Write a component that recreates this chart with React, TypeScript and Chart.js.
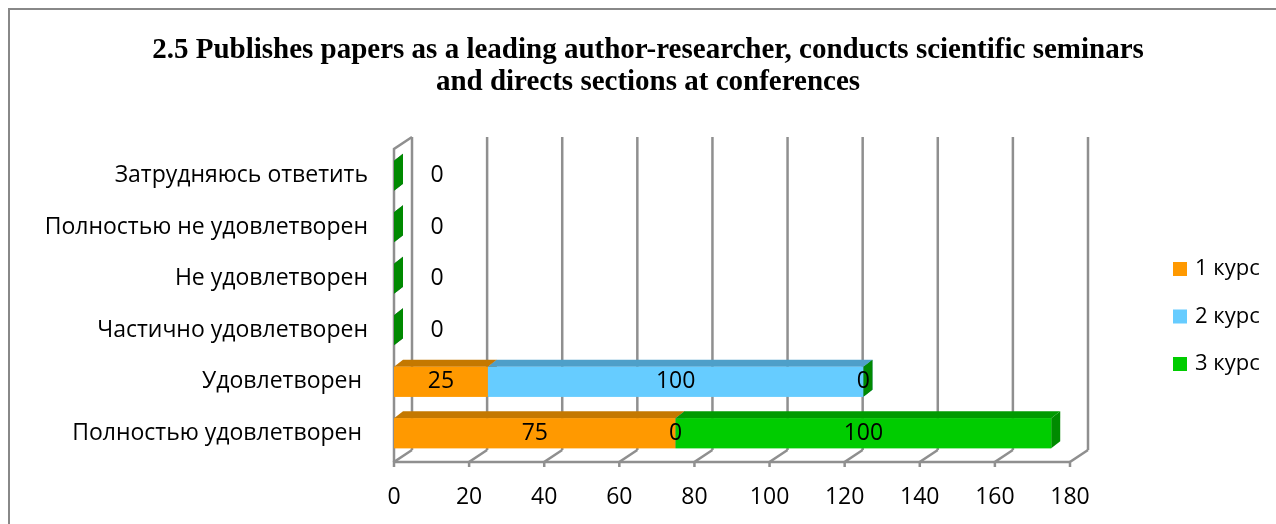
import React, { useEffect, useRef } from "react";
import { Chart, registerables } from "chart.js";

Chart.register(...registerables);

const titleLines = [
  "2.5 Publishes papers as a leading author-researcher, conducts scientific seminars",
  "and directs sections at conferences",
];
const categories = [
  "Затрудняюсь ответить",
  "Полностью не удовлетворен",
  "Не удовлетворен",
  "Частично удовлетворен",
  "Удовлетворен ",
  "Полностью удовлетворен ",
];
const seriesNames = ["1 курс", "2 курс", "3 курс"];
const course1 = [0, 0, 0, 0, 25, 75];
const course2 = [0, 0, 0, 0, 100, 0];
const course3 = [0, 0, 0, 0, 0, 100];
const xMin = 0;
const xMax = 180;
const xStep = 20;

const frontColors = ["#FF9900", "#66CCFF", "#00CC00"];
const topColors = ["#C47800", "#4E9FC9", "#009A00"];
const sideColors = ["#B06A00", "#3F8DB5", "#008A00"];

const FONT = "'Open Sans', 'DejaVu Sans', sans-serif";
const WALL_DX = 18;
const WALL_DY = 12;
const BAR_DX = 9;
const BAR_DY = 7;
const GRID_COLOR = "#8f8f8f";

const threeD = {
  id: "threeD",
  beforeDatasetsDraw(chart: any) {
    const ctx = chart.ctx;
    const xs = chart.scales.x;
    const area = chart.chartArea;
    const floorY = area.bottom + 3;
    const backTop = area.top - 13;
    ctx.save();
    ctx.strokeStyle = GRID_COLOR;
    ctx.lineWidth = 2.5;
    ctx.lineCap = "butt";
    xs.ticks.forEach((t: any) => {
      const px = xs.getPixelForValue(t.value);
      ctx.beginPath();
      ctx.moveTo(px + WALL_DX, floorY - WALL_DY);
      ctx.lineTo(px + WALL_DX, backTop);
      ctx.stroke();
    });
    const x0 = xs.getPixelForValue(xMin);
    const x1 = xs.getPixelForValue(xMax);
    ctx.beginPath();
    ctx.moveTo(x0, floorY);
    ctx.lineTo(x0, backTop + WALL_DY);
    ctx.lineTo(x0 + WALL_DX, backTop);
    ctx.stroke();
    ctx.beginPath();
    ctx.moveTo(x0, floorY);
    ctx.lineTo(x1, floorY);
    ctx.stroke();
    xs.ticks.forEach((t: any) => {
      const px = xs.getPixelForValue(t.value);
      ctx.beginPath();
      ctx.moveTo(px, floorY + 5);
      ctx.lineTo(px, floorY);
      ctx.lineTo(px + WALL_DX, floorY - WALL_DY);
      ctx.stroke();
    });
    ctx.restore();
  },
  afterDatasetsDraw(chart: any) {
    const ctx = chart.ctx;
    const xs = chart.scales.x;
    const zeroPx = xs.getPixelForValue(0);
    const n = chart.data.labels.length;
    const metas = chart.data.datasets.map((_: any, d: number) => chart.getDatasetMeta(d));
    ctx.save();
    for (let i = 0; i < n; i++) {
      metas.forEach((meta: any, d: number) => {
        const el = meta.data[i];
        if (!el) return;
        const p = el.getProps(["x", "y", "base", "height"], true);
        const left = Math.min(p.base, p.x);
        const right = Math.max(p.base, p.x);
        const top = p.y - p.height / 2;
        const bottom = p.y + p.height / 2;
        ctx.fillStyle = sideColors[d];
        ctx.beginPath();
        ctx.moveTo(right, top);
        ctx.lineTo(right + BAR_DX, top - BAR_DY);
        ctx.lineTo(right + BAR_DX, bottom - BAR_DY);
        ctx.lineTo(right, bottom);
        ctx.closePath();
        ctx.fill();
        if (right - left > 0) {
          ctx.fillStyle = topColors[d];
          ctx.beginPath();
          ctx.moveTo(left, top);
          ctx.lineTo(left + BAR_DX, top - BAR_DY);
          ctx.lineTo(right + BAR_DX, top - BAR_DY);
          ctx.lineTo(right, top);
          ctx.closePath();
          ctx.fill();
          ctx.fillStyle = frontColors[d];
          ctx.fillRect(left, top, right - left, bottom - top);
        }
      });
    }
    ctx.fillStyle = "#000";
    ctx.font = `23px ${FONT}`;
    ctx.textAlign = "center";
    ctx.textBaseline = "middle";
    for (let i = 0; i < n; i++) {
      const drawn = new Set<string>();
      metas.forEach((meta: any, d: number) => {
        const el = meta.data[i];
        if (!el) return;
        const p = el.getProps(["x", "y", "base"], true);
        const v = chart.data.datasets[d].data[i];
        let cx = (p.x + p.base) / 2;
        if (v === 0 && Math.abs(p.x - zeroPx) < 0.5) cx = zeroPx + 43;
        const key = `${Math.round(cx)}|${v}`;
        if (drawn.has(key)) return;
        drawn.add(key);
        ctx.fillText(String(v), cx, p.y);
      });
    }
    ctx.restore();
  },
  afterDraw(chart: any) {
    const ctx = chart.ctx;
    ctx.save();
    ctx.fillStyle = "#000";
    ctx.font = `bold 29px 'Liberation Serif', 'Times New Roman', serif`;
    ctx.textAlign = "center";
    ctx.textBaseline = "middle";
    ctx.fillText(titleLines[0], 648, 51);
    ctx.fillText(titleLines[1], 648, 83);
    ctx.font = `22px ${FONT}`;
    ctx.textAlign = "left";
    seriesNames.forEach((name, d) => {
      const cy = 269 + d * 47.5;
      ctx.fillStyle = frontColors[d];
      ctx.fillRect(1173, cy - 7, 14, 14);
      ctx.fillStyle = "#000";
      ctx.fillText(name, 1195, cy);
    });
    ctx.restore();
  },
};

export default function App() {
  const ref = useRef<HTMLCanvasElement | null>(null);
  useEffect(() => {
    if (!ref.current) return;
    const series = [course1, course2, course3];
    const chart = new Chart(ref.current, {
      type: "bar",
      data: {
        labels: categories,
        datasets: series.map((vals, d) => ({
          label: seriesNames[d],
          data: vals,
          backgroundColor: frontColors[d],
          borderWidth: 0,
          categoryPercentage: 1,
          barPercentage: 0.58,
        })),
      },
      options: {
        indexAxis: "y",
        animation: false,
        responsive: false,
        devicePixelRatio: 1,
        layout: { padding: { left: 0, right: 206, top: 150, bottom: 0 } },
        plugins: {
          legend: { display: false },
          title: { display: false },
          tooltip: { enabled: false },
        },
        scales: {
          x: {
            stacked: true,
            min: xMin,
            max: xMax,
            ticks: {
              stepSize: xStep,
              color: "#000",
              font: { family: FONT, size: 23 },
              padding: 25,
              maxRotation: 0,
            },
            grid: { display: false, drawTicks: false },
            border: { display: false },
            afterFit: (s: any) => {
              s.height = 65;
            },
          },
          y: {
            stacked: true,
            ticks: {
              color: "#000",
              font: { family: FONT, size: 23 },
              padding: 26,
            },
            grid: { display: false, drawTicks: false },
            border: { display: false },
            afterFit: (s: any) => {
              s.width = 394;
            },
          },
        },
      },
      plugins: [threeD],
    });
    return () => chart.destroy();
  }, []);
  return (
    <div style={{ position: "absolute", left: 0, top: 0, width: 1276, height: 524, background: "#fff", overflow: "hidden" }}>
      <div
        style={{
          position: "absolute",
          left: 8,
          top: 8,
          width: 1300,
          height: 600,
          borderLeft: "2px solid #888",
          borderTop: "2px solid #888",
        }}
      />
      <canvas ref={ref} width={1276} height={524} style={{ position: "absolute", left: 0, top: 0 }} />
    </div>
  );
}
